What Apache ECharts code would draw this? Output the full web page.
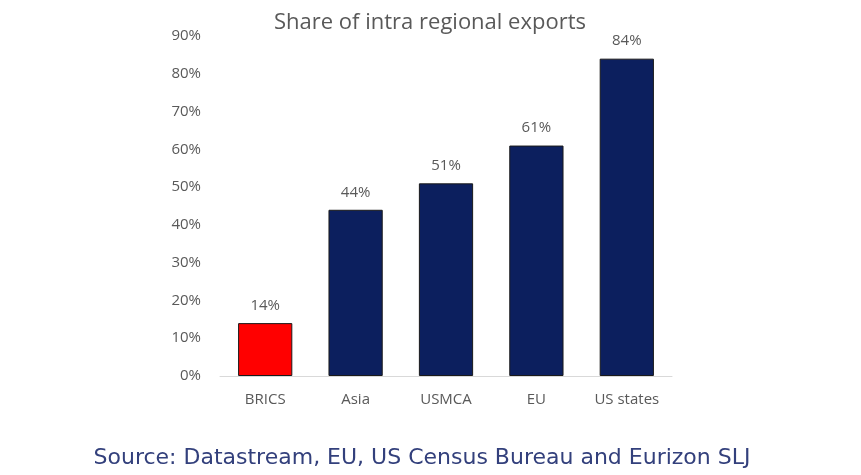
<!DOCTYPE html>
<html>
<head>
<meta charset="utf-8">
<script src="https://cdn.jsdelivr.net/npm/echarts@6/dist/echarts.min.js"></script>
<style>
    html, body { margin: 0; padding: 0; background: #fff; }
    #chart { width: 861px; height: 475px; }
</style>
</head>
<body>
<div id="chart"></div>
<script>
var categories = ['BRICS', 'Asia', 'USMCA', 'EU', 'US states'];
var shares = [14, 44, 51, 61, 84];
var barColors = ['#ff0000', '#0c1f5e', '#0c1f5e', '#0c1f5e', '#0c1f5e'];
var chartTitle = 'Share of intra regional exports';
var sourceText = 'Source: Datastream, EU, US Census Bureau and Eurizon SLJ';

var chart = echarts.init(document.getElementById('chart'));

var grey = '#595959';

// bars coloured one by one (BRICS in red)
var barData = shares.map(function (v, i) {
    return {
        value: v,
        itemStyle: {color: barColors[i]}
    };
});

var option = {
    animation: false,
    textStyle: {fontFamily: '"Open Sans", sans-serif'},
    title: [
        {
            text: chartTitle,
            left: 425,
            top: 7,
            textAlign: 'center',
            textStyle: {color: grey, fontSize: 22, fontWeight: 'normal', fontFamily: '"Open Sans", sans-serif'}
        },
        {
            text: sourceText,
            left: 417,
            top: 442,
            textAlign: 'center',
            textStyle: {color: '#33407c', fontSize: 22, fontWeight: 'normal', fontFamily: '"DejaVu Sans", sans-serif'}
        }
    ],
    grid: {
        left: 220,
        right: 189,
        top: 36,
        bottom: 99
    },
    xAxis: {
        type: 'category',
        data: categories,
        axisTick: {show: false},
        axisLine: {lineStyle: {color: '#d9d9d9', width: 1}},
        axisLabel: {color: grey, fontSize: 15, margin: 16}
    },
    yAxis: {
        type: 'value',
        min: 0,
        max: 90,
        interval: 10,
        splitLine: {show: false},
        axisLine: {show: false},
        axisTick: {show: false},
        axisLabel: {
            color: grey,
            fontSize: 15,
            margin: 19,
            formatter: '{value}%'
        }
    },
    series: [
        {
            type: 'bar',
            data: barData,
            barCategoryGap: '40%',
            itemStyle: {borderColor: '#1a1a1a', borderWidth: 1},
            label: {
                show: true,
                position: 'top',
                distance: 10,
                color: grey,
                fontSize: 15,
                formatter: '{c}%'
            }
        }
    ]
};

chart.setOption(option);
</script>
</body>
</html>
